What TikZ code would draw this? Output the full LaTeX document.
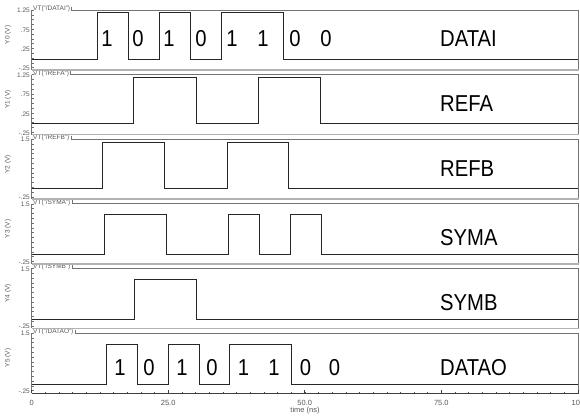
\documentclass[tikz,border=0pt]{standalone}
\usepackage{fontspec}
\setmainfont{Liberation Sans}
\begin{document}
\begin{tikzpicture}[x=1pt,y=-1pt,
  sig/.style={line width=0.95pt,black!85,line join=miter},
  frm/.style={black!55,line width=0.7pt},
  sep/.style={black!30,line width=1.5pt},
  small/.style={font=\fontsize{6.5}{6.5}\selectfont,text=black!65,inner sep=0pt},
  axl/.style={font=\fontsize{7.5}{7.5}\selectfont,text=black!65,inner sep=0pt},
  big/.style={font=\fontsize{23}{23}\selectfont,xscale=0.88,inner sep=0pt},
]
\useasboundingbox (0,0) rectangle (580,415);
\fill[white] (0,0) rectangle (580,415);

% panel frames
\foreach \T/\n/\k in {10/DATAI/0,74.6/REFA/1,139.2/REFB/2,203.8/SYMA/3,268.4/SYMB/4,333/DATAO/5}{
  \pgfmathsetmacro\B{\T+60}
  \pgfmathsetmacro\U{\T-3.5}
  \node[small,anchor=west] (h\k) at (33,\T-1.2) {VT("/\n")};
  \draw[frm] ([xshift=1.5pt]h\k.east |- 0,\U) -- ([xshift=1.5pt]h\k.east |- 0,\T) -- (578.5,\T) -- (578.5,\B);
  \draw[frm] (31.6,\T) -- (31.6,\B);
  \foreach \yy in {0,4.8,...,58}{\draw[frm,line width=0.4pt] (31.6,\T+\yy) -- ++(2,0);}
  \node[small,rotate=90] (yl\k) at (8,\T+25) {Y\k\ (V)};
}
\foreach \T in {10,74.6,139.2,203.8,268.4}{
  \draw[sep] (31.6,\T+60) -- (578.5,\T+60);
}
% tick labels, 1.25 scale
\foreach \T in {10,74.6}{
  \node[small,anchor=east] at (30,\T+0.7) {1.25};
  \node[small,anchor=east] at (30,\T+20) {.75};
  \node[small,anchor=east] at (30,\T+39.4) {.25};
  \node[small,anchor=east] at (30,\T+58.6) {-.25};
}
\foreach \T in {139.2,203.8,268.4,333}{
  \node[small,anchor=east] at (30,\T+0.5) {1.5};
  \node[small,anchor=east] at (30,\T+58.3) {-.25};
}

% time axis
\draw[black!75,line width=0.8pt] (31.6,393) -- (578.5,393);
\begin{scope}[shift={(31.6,0)},x=5.463pt]
  \foreach \t in {0,2.5,...,100}{\draw[black!70,line width=0.4pt] (\t,393) -- ++(0,-1.5);}
  \foreach \t/\l in {0/0,25/25.0,50/50.0,75/75.0,100/100}{
    \draw[black!75,line width=0.6pt] (\t,393) -- ++(0,-3);
    \node[axl] at (\t,403) {\l};
  }
  % signals
  % DATAI
  \draw[sig] (0,59) -- (12.06,59) -- (12.06,12.7) -- (17.73,12.7) -- (17.73,59) -- (23.4,59) -- (23.4,12.7) -- (29.07,12.7) -- (29.07,59) -- (34.74,59) -- (34.74,12.7) -- (46.08,12.7) -- (46.08,59) -- (100,59);
  % REFA
  \draw[sig] (0,123) -- (18.7,123) -- (18.7,77) -- (30.1,77) -- (30.1,123) -- (41.6,123) -- (41.6,77) -- (52.8,77) -- (52.8,123) -- (100,123);
  % REFB
  \draw[sig] (0,188.3) -- (12.9,188.3) -- (12.9,142.3) -- (24.3,142.3) -- (24.3,188.3) -- (35.8,188.3) -- (35.8,142.3) -- (47.0,142.3) -- (47.0,188.3) -- (100,188.3);
  % SYMA
  \draw[sig] (0,254) -- (13.3,254) -- (13.3,214) -- (24.7,214) -- (24.7,254) -- (36.0,254) -- (36.0,214) -- (41.7,214) -- (41.7,254) -- (47.3,254) -- (47.3,214) -- (53.0,214) -- (53.0,254) -- (100,254);
  % SYMB
  \draw[sig] (0,319) -- (18.8,319) -- (18.8,279) -- (30.1,279) -- (30.1,319) -- (100,319);
  % DATAO
  \draw[sig] (0,384) -- (13.76,384) -- (13.76,344) -- (19.3,344) -- (19.3,384) -- (25.0,384) -- (25.0,344) -- (30.65,344) -- (30.65,384) -- (36.2,384) -- (36.2,344) -- (47.5,344) -- (47.5,384) -- (100,384);
\end{scope}
\node[axl] (tl) at (305,411) {time (ns)};

% bit digits
\foreach \x/\d in {107/1,138/0,169/1,201/0,232/1,263/1,295/0,326/0}{
  \node[big] at (\x,38.5) {\d};
}
\foreach \x/\d in {120/1,149/0,182/1,212/0,243.5/1,274/1,305.6/0,334.6/0}{
  \node[big] at (\x,367.5) {\d};
}
% signal names
\node[big,anchor=west] (nA) at (440,38.5) {DATAI};
\node[big,anchor=west] (nB) at (440,103.5) {REFA};
\node[big,anchor=west] (nC) at (440,168.5) {REFB};
\node[big,anchor=west] (nD) at (440,237.5) {SYMA};
\node[big,anchor=west] (nE) at (440,302.5) {SYMB};
\node[big,anchor=west] (nF) at (440,367.5) {DATAO};
\end{tikzpicture}
\end{document}
